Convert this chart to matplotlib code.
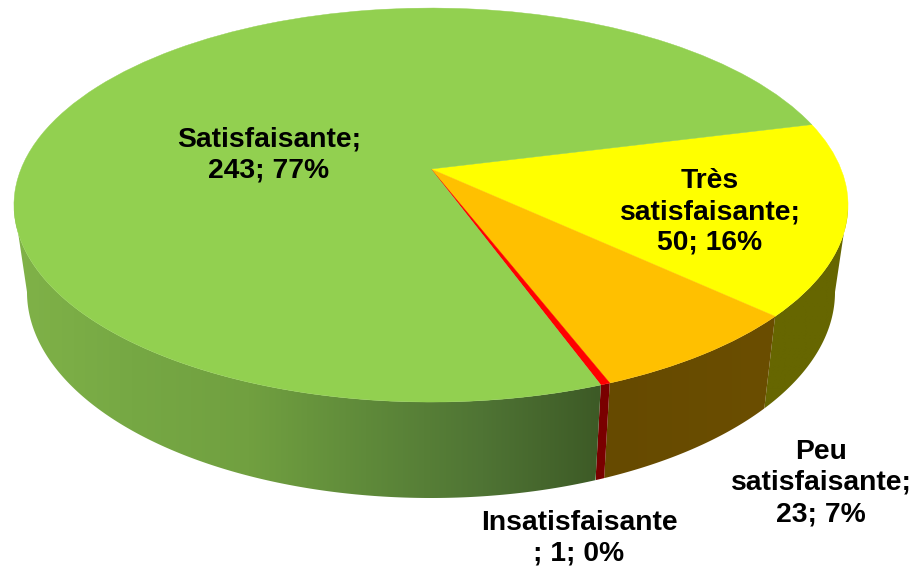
import numpy as np
import matplotlib
matplotlib.use("Agg")
import matplotlib.pyplot as plt
from matplotlib.patches import Polygon
from matplotlib.transforms import Transform

names = ["Très\nsatisfaisante", "Peu\nsatisfaisante", "Insatisfaisante", "Satisfaisante"]
values = [50, 23, 1, 243]
percents = [16, 7, 0, 77]
separators = [";\n", ";\n", "\n; ", ";\n"]
top_colors = ["#FFFF00", "#FFC000", "#FF0000", "#92D050"]
# wall colours, left to right
wall_colors = [
    ["#666600", "#666600"],
    ["#664A00", "#6B4E00"],
    ["#7A0000", "#7A0000"],
    ["#80B248", "#76A844", "#71A040", "#5F8A3A", "#4F7434", "#3D5A26"],
]
label_pos = [(710, 212), (821, 483), (579, 538), (269, 155)]

START = 14.1
# top face: unit circle seen in perspective, the apex sits above the ellipse centre
CX, APEX_Y = 431, 169
A, B, K = 410.0, 190.4, 0.183
TOP_RX, TOP_RY = A / np.sqrt(1 - K**2), B / (1 - K**2)
TOP_CY = APEX_Y + K * B / (1 - K**2)
# bottom rim of the walls
LOW_RX, LOW_RY, LOW_CY = 404, 206, 292


class Perspective(Transform):
    input_dims = 2
    output_dims = 2

    def transform_non_affine(self, xy):
        xy = np.asarray(xy, dtype=float)
        w = 1 + K * xy[:, 1]
        return np.column_stack([CX + A * xy[:, 0] / w, APEX_Y - B * xy[:, 1] / w])


persp = Perspective()

fig = plt.figure(figsize=(9.13, 5.66), dpi=100)
ax = fig.add_axes([0, 0, 1, 1])

wedges, _ = ax.pie(values, colors=top_colors, startangle=START, counterclock=False,
                   wedgeprops={"linewidth": 0.3})

for w, top_c, stops in zip(wedges, top_colors, wall_colors):
    w.set_edgecolor(top_c)
    w.set_transform(persp + ax.transData)
    w.set_zorder(3)

    # outer wall, only the part of the rim facing us
    t = np.radians(np.linspace(w.theta1, w.theta2, 600))
    rim = persp.transform(np.column_stack([np.cos(t), np.sin(t)]))
    rim = rim[rim[:, 1] >= TOP_CY]
    phi = np.arctan2((TOP_CY - rim[:, 1]) / TOP_RY, (rim[:, 0] - CX) / TOP_RX)
    low = np.column_stack([CX + LOW_RX * np.cos(phi), LOW_CY - LOW_RY * np.sin(phi)])
    pts = np.vstack([rim, low[::-1]])

    x0, x1 = pts[:, 0].min(), pts[:, 0].max()
    rgb = np.array([matplotlib.colors.to_rgb(c) for c in stops])
    pos = np.linspace(0, 1, len(stops))
    s = np.linspace(0, 1, 256)
    grad = np.stack([np.interp(s, pos, rgb[:, i]) for i in range(3)], axis=-1)[None, :, :]
    im = ax.imshow(grad, extent=(x0, x1, pts[:, 1].max(), pts[:, 1].min()),
                   aspect="auto", zorder=1, interpolation="bilinear")
    im.set_clip_path(Polygon(pts, closed=True, transform=ax.transData))

for name, sep, v, p, (x, y) in zip(names, separators, values, percents, label_pos):
    ax.text(x, y, f"{name}{sep}{v}; {p}%", ha="center", va="center", fontsize=20.3,
            fontweight="bold", family="Liberation Sans", linespacing=1.25, zorder=5,
            color="black")

ax.set_aspect("auto")
ax.set_xlim(0, 913)
ax.set_ylim(566, 0)
ax.axis("off")

fig.savefig("out.png", dpi=100, facecolor="white")
